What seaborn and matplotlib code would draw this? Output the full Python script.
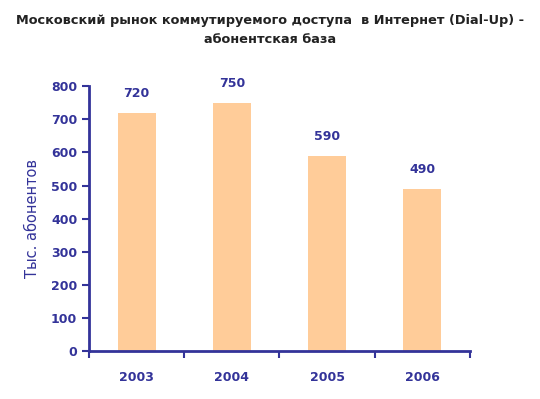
import matplotlib
matplotlib.use('Agg')
import matplotlib.pyplot as plt
import numpy as np
import pandas as pd
import seaborn as sns

years = ['2003', '2004', '2005', '2006']
subscribers = [720, 750, 590, 490]

navy = '#333399'
peach = '#FFCC99'

sns.set_theme(style='white')
plt.rcParams['font.family'] = ['DejaVu Sans']

df = pd.DataFrame({'year': years, 'subs': subscribers})

fig = plt.figure(figsize=(5.4, 3.99), dpi=100)
ax = fig.add_axes([0.165, 0.120, 0.705, 0.664])
sns.barplot(data=df, x='year', y='subs', color=peach, width=0.4, saturation=1,
            linewidth=0, ax=ax)

ax.set_ylim(0, 800)
ax.set_xlim(-0.5, 3.5)
ax.set_yticks(np.arange(0, 801, 100))
ax.set_xticks(np.arange(-0.5, 4, 1), minor=True)
ax.tick_params(axis='x', which='major', length=0, pad=14, labelsize=9, labelcolor=navy)
ax.tick_params(axis='x', which='minor', bottom=True, length=5, width=1.5, color=navy, direction='out')
ax.tick_params(axis='y', length=5, width=1.5, color=navy, direction='out', labelsize=9, labelcolor=navy, left=True)
for lbl in ax.get_xticklabels() + ax.get_yticklabels():
    lbl.set_fontweight('bold')

for side in ['top', 'right']:
    ax.spines[side].set_visible(False)
for side in ['left', 'bottom']:
    ax.spines[side].set_color(navy)
    ax.spines[side].set_linewidth(2)

ax.bar_label(ax.containers[0], padding=9, color=navy, fontsize=9, fontweight='bold')

ax.set_xlabel('')
ax.set_ylabel('Тыс. абонентов', color=navy, fontsize=10.5, labelpad=8)

fig.suptitle('Московский рынок коммутируемого доступа  в Интернет (Dial-Up) -\nабонентская база',
             x=0.5, y=0.965, fontsize=9.3, fontweight='bold', color='#222222', linespacing=1.6)

fig.savefig('out.png', dpi=100)
